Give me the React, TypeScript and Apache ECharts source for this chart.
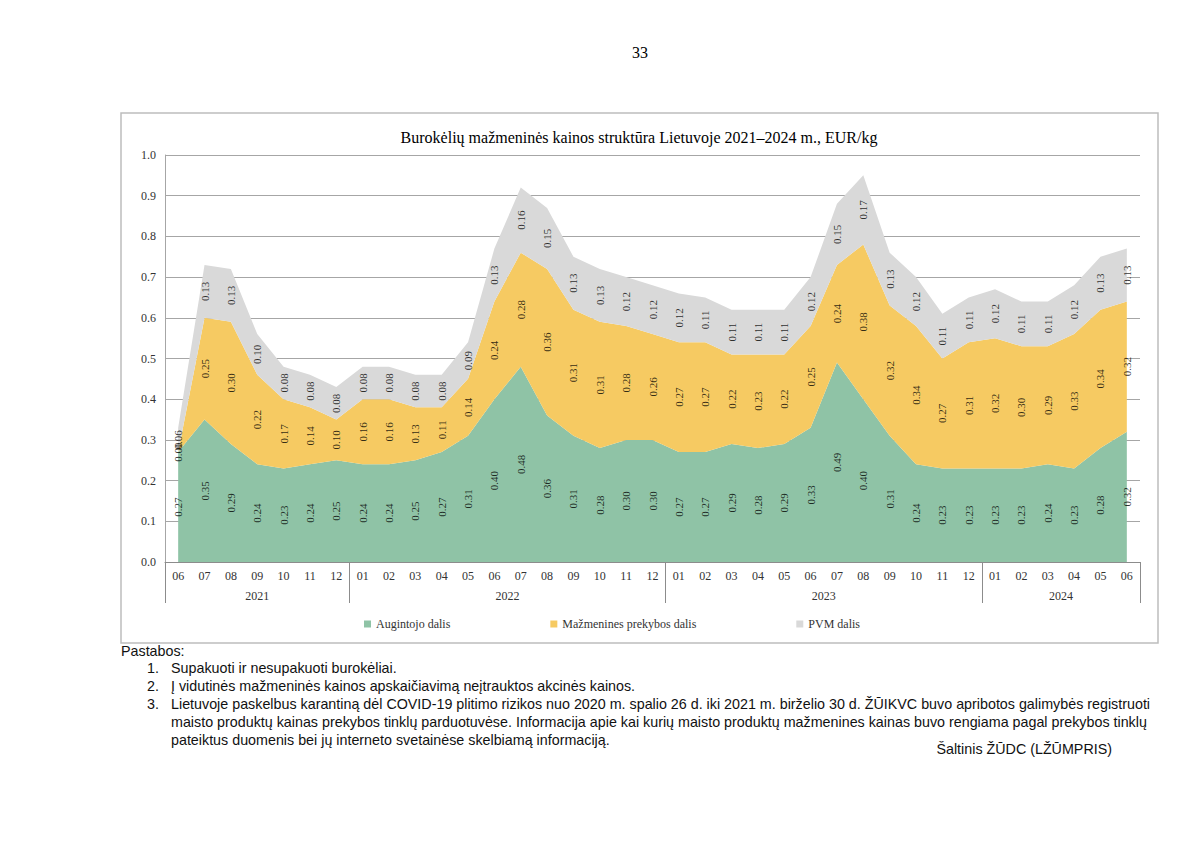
import React, { useEffect, useRef } from "react";
import * as echarts from "echarts";

const periods = [
  "2021-06", "2021-07", "2021-08", "2021-09", "2021-10", "2021-11", "2021-12",
  "2022-01", "2022-02", "2022-03", "2022-04", "2022-05", "2022-06", "2022-07", "2022-08", "2022-09", "2022-10", "2022-11", "2022-12",
  "2023-01", "2023-02", "2023-03", "2023-04", "2023-05", "2023-06", "2023-07", "2023-08", "2023-09", "2023-10", "2023-11", "2023-12",
  "2024-01", "2024-02", "2024-03", "2024-04", "2024-05", "2024-06",
];

const augintojo = [
  0.27, 0.35, 0.29, 0.24, 0.23, 0.24, 0.25,
  0.24, 0.24, 0.25, 0.27, 0.31, 0.40, 0.48, 0.36, 0.31, 0.28, 0.30, 0.30,
  0.27, 0.27, 0.29, 0.28, 0.29, 0.33, 0.49, 0.40, 0.31, 0.24, 0.23, 0.23,
  0.23, 0.23, 0.24, 0.23, 0.28, 0.32,
];

const mazmenines = [
  0.00, 0.25, 0.30, 0.22, 0.17, 0.14, 0.10,
  0.16, 0.16, 0.13, 0.11, 0.14, 0.24, 0.28, 0.36, 0.31, 0.31, 0.28, 0.26,
  0.27, 0.27, 0.22, 0.23, 0.22, 0.25, 0.24, 0.38, 0.32, 0.34, 0.27, 0.31,
  0.32, 0.30, 0.29, 0.33, 0.34, 0.32,
];

const pvm = [
  0.06, 0.13, 0.13, 0.10, 0.08, 0.08, 0.08,
  0.08, 0.08, 0.08, 0.08, 0.09, 0.13, 0.16, 0.15, 0.13, 0.13, 0.12, 0.12,
  0.12, 0.11, 0.11, 0.11, 0.11, 0.12, 0.15, 0.17, 0.13, 0.12, 0.11, 0.11,
  0.12, 0.11, 0.11, 0.12, 0.13, 0.13,
];

const seriesNames = ["Augintojo dalis", "Mažmenines prekybos dalis", "PVM dalis"];
const seriesColors = ["#8fc3a6", "#f6ca62", "#d9d9d9"];

const titleText = "Burokėlių mažmeninės kainos struktūra Lietuvoje 2021–2024 m., EUR/kg";
const pageNumber = "33";
const notesHeader = "Pastabos:";
const notes = [
  ["1.", "Supakuoti ir nesupakuoti burokėliai."],
  ["2.", "Į vidutinės mažmeninės kainos apskaičiavimą neįtrauktos akcinės kainos."],
  ["3.", "Lietuvoje paskelbus karantiną dėl COVID-19 plitimo rizikos nuo 2020 m. spalio 26 d. iki 2021 m. birželio 30 d. ŽŪIKVC buvo apribotos galimybės registruoti"],
  ["", "maisto produktų kainas prekybos tinklų parduotuvėse. Informacija apie kai kurių maisto produktų mažmenines kainas buvo rengiama pagal prekybos tinklų"],
  ["", "pateiktus duomenis bei jų interneto svetainėse skelbiamą informaciją."],
];
const sourceText = "Šaltinis ŽŪDC (LŽŪMPRIS)";

const SERIF = "'Liberation Serif', 'Times New Roman', serif";
const SANS = "'Liberation Sans', Arial, sans-serif";

export default function App() {
  const ref = useRef<HTMLDivElement>(null);

  useEffect(() => {
    if (!ref.current) return;
    const chart = echarts.init(ref.current, undefined, { renderer: "svg" });

    const months = periods.map((p) => p.slice(5));
    const yearOf = periods.map((p) => p.slice(0, 4));
    const stacks = [augintojo, mazmenines, pvm];

    const labelData = stacks.map((arr, s) =>
      arr.map((v, i) => {
        let base = 0;
        for (let k = 0; k < s; k++) base += stacks[k][i];
        return [i, base + v / 2, v];
      })
    );

    const areaSeries = stacks.map((arr, s) => ({
      name: seriesNames[s],
      type: "line",
      stack: "total",
      data: arr,
      symbol: "none",
      lineStyle: { width: 0 },
      areaStyle: { color: seriesColors[s], opacity: 1 },
      itemStyle: { color: seriesColors[s] },
      z: 2,
    }));

    const labelSeries = labelData.map((d) => ({
      type: "scatter",
      data: d,
      symbolSize: 1,
      itemStyle: { color: "rgba(0,0,0,0)" },
      silent: true,
      z: 5,
      label: {
        show: true,
        position: "inside",
        rotate: 90,
        fontFamily: SERIF,
        fontSize: 11,
        color: "#000",
        textBorderWidth: 0,
        textBorderColor: "transparent",
        formatter: (p: any) => p.value[2].toFixed(2),
      },
    }));

    const NOTE_FONT = `14.3px ${SANS}`;
    const notesGraphic: any[] = [
      { type: "text", left: 121, top: 644, style: { text: notesHeader, font: NOTE_FONT, fill: "#111" } },
    ];
    notes.forEach((n, i) => {
      const y = 661 + i * 18;
      if (n[0]) notesGraphic.push({ type: "text", x: 147, y, style: { text: n[0], font: NOTE_FONT, fill: "#111" } });
      notesGraphic.push({ type: "text", x: 171, y, style: { text: n[1], font: NOTE_FONT, fill: "#111" } });
    });
    notesGraphic.push({
      type: "text", x: 1112, y: 742,
      style: { text: sourceText, font: NOTE_FONT, fill: "#111", align: "right" },
    });

    const baseGraphic: any[] = [
      { type: "rect", shape: { x: 121, y: 113, width: 1037, height: 530 }, style: { fill: "none", stroke: "#bdbdbd", lineWidth: 1.5 }, z: -1 },
      { type: "text", x: 640, y: 52, style: { text: pageNumber, font: `16px ${SERIF}`, fill: "#000", align: "center", verticalAlign: "middle" } },
      { type: "text", x: 639, y: 137, style: { text: titleText, font: `16px ${SERIF}`, fill: "#000", align: "center", verticalAlign: "middle" } },
      ...notesGraphic,
    ];

    chart.setOption({
      animation: false,
      textStyle: { fontFamily: SERIF },
      grid: { left: 165, right: 60, top: 155, bottom: 287, containLabel: false },
      legend: {
        data: seriesNames.map((n) => ({ name: n, icon: "rect" })),
        left: 359,
        top: 613,
        itemWidth: 7,
        itemHeight: 7,
        itemGap: 100,
        textStyle: { fontFamily: SERIF, fontSize: 12, color: "#333" },
      },
      xAxis: [
        {
          type: "category",
          data: months,
          boundaryGap: true,
          axisLine: { lineStyle: { color: "#8c8c8c" } },
          axisTick: { show: false },
          axisLabel: { fontFamily: SERIF, fontSize: 12, color: "#333", margin: 8, interval: 0 },
        },
        {
          type: "category",
          data: yearOf,
          boundaryGap: true,
          position: "bottom",
          axisLine: { show: false },
          axisTick: {
            show: true,
            length: 41,
            lineStyle: { color: "#8c8c8c" },
            interval: (i: number) => i === 0 || yearOf[i] !== yearOf[i - 1],
          },
          axisLabel: { show: false },
        },
      ],
      yAxis: {
        type: "value",
        min: 0,
        max: 1,
        interval: 0.1,
        axisLine: { show: true, lineStyle: { color: "#a6a6a6" } },
        axisTick: { show: false },
        splitLine: { lineStyle: { color: "#a6a6a6" } },
        axisLabel: { fontFamily: SERIF, fontSize: 12, color: "#333", margin: 9, formatter: (v: number) => v.toFixed(1) },
      },
      series: [...areaSeries, ...labelSeries],
      graphic: baseGraphic,
    });

    // year labels centered on each year's group of months
    const groups: { year: string; start: number; end: number }[] = [];
    yearOf.forEach((y, i) => {
      const g = groups[groups.length - 1];
      if (g && g.year === y) g.end = i;
      else groups.push({ year: y, start: i, end: i });
    });
    const yearGraphic = groups.map((g) => {
      const x0 = chart.convertToPixel({ xAxisIndex: 0 }, g.start) as number;
      const x1 = chart.convertToPixel({ xAxisIndex: 0 }, g.end) as number;
      return {
        type: "text",
        x: (x0 + x1) / 2,
        y: 596,
        style: { text: g.year, font: `12px ${SERIF}`, fill: "#333", align: "center", verticalAlign: "middle" },
      };
    });
    chart.setOption({ graphic: [...baseGraphic, ...yearGraphic] });

    return () => chart.dispose();
  }, []);

  return (
    <div
      ref={ref}
      style={{ position: "absolute", left: 0, top: 0, width: 1200, height: 849, background: "#fff" }}
    />
  );
}
